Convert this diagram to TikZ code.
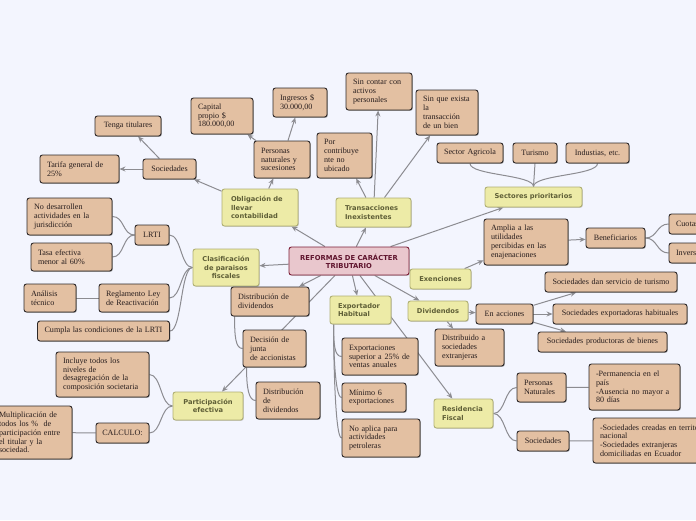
\documentclass[tikz,border=0pt]{standalone}
\usepackage{fontspec}
\newfontfamily\tanfont{Liberation Serif}
\newfontfamily\yelfont{DejaVu Sans}
\usetikzlibrary{arrows.meta, calc, backgrounds, shadows}
\definecolor{bgFill}{RGB}{243,245,254}
\definecolor{tanFill}{RGB}{227,192,162}
\definecolor{tanBrd}{RGB}{45,40,40}
\definecolor{tanTxt}{RGB}{40,30,30}
\definecolor{yelFill}{RGB}{237,235,167}
\definecolor{yelBrd}{RGB}{175,175,115}
\definecolor{yelTxt}{RGB}{95,95,55}
\definecolor{rootFill}{RGB}{233,199,205}
\definecolor{rootBrd}{RGB}{125,30,55}
\definecolor{rootTxt}{RGB}{95,20,45}
\definecolor{lnGray}{RGB}{140,140,145}
\tikzset{
  B/.style={rounded corners=2.5pt, inner ysep=2pt, line width=0.9pt},
  TAN/.style={B, draw=tanBrd, fill=tanFill, inner xsep=7pt, align=left, text=tanTxt,
    font=\tanfont\fontsize{8.1}{8.8}\selectfont,
    drop shadow={shadow xshift=0.8pt, shadow yshift=-0.8pt, fill=black!70, opacity=0.5}},
  YEL/.style={B, draw=yelBrd, fill=yelFill, inner xsep=9pt, align=left, text=yelTxt,
    font=\yelfont\bfseries\fontsize{6.7}{8.3}\selectfont,
    drop shadow={shadow xshift=0.8pt, shadow yshift=-0.8pt, fill=black!40, opacity=0.5}},
  YELC/.style={YEL, inner xsep=6pt, align=center},
  ROOT/.style={B, draw=rootBrd, fill=rootFill, inner xsep=5pt, align=center, text=rootTxt,
    font=\yelfont\bfseries\fontsize{6.8}{7.8}\selectfont,
    drop shadow={shadow xshift=0.8pt, shadow yshift=-0.8pt, fill=black!40, opacity=0.5}},
  AR/.style={-{Stealth[length=6pt, width=5pt]}, draw=lnGray, line width=1pt},
  LN/.style={draw=lnGray, line width=1pt},
}
\newcommand{\lcurve}[2]{\draw[LN] (#1.west) .. controls +(-12,0) and +(12,0) .. (#2.east);}
\newcommand{\rcurve}[2]{\draw[LN] (#1.east) .. controls +(12,0) and +(-12,0) .. (#2.west);}
\newcommand{\upcurve}[2]{\draw[LN] (#1.north) .. controls +(0,-12) and +(0,12) .. (#2.south);}
\newcommand{\dncurve}[2]{\draw[LN] ([xshift=4pt]#1.south west) .. controls +(0,20) and +(-7,0) .. (#2.west);}

\begin{document}
\begin{tikzpicture}[x=1pt, y=-1pt]
\useasboundingbox (0,0) rectangle (696,520);

%% centre
\node[ROOT, text width=110pt, minimum height=28pt] (root) at (349,261)
  {REFORMAS DE CARÁCTER\\TRIBUTARIO};

%% Obligación de llevar contabilidad
\node[YEL, text width=58pt, minimum height=37pt] (oblig) at (260,207.5)
  {Obligación de\\llevar\\contabilidad};
\node[TAN, text width=39pt, align=center, minimum height=20pt] (socA) at (169.5,169) {Sociedades};
\node[TAN, text width=52pt, align=center, minimum height=20pt] (tenga) at (128,126) {Tenga titulares};
\node[TAN, text width=65pt, minimum height=28pt] (tarifa) at (79.5,169) {Tarifa general de\\25\%};
\node[TAN, text width=42pt, minimum height=37pt] (persnat) at (282,159.5)
  {Personas\\naturales y\\sucesiones};
\node[TAN, text width=48pt, minimum height=36pt] (capital) at (222,116) {Capital\\propio \$\\180.000,00};
\node[TAN, text width=40pt, minimum height=29pt] (ingresos) at (300,102.5) {Ingresos \$\\30.000,00};

%% Transacciones Inexistentes
\node[YEL, text width=57pt, minimum height=29pt] (trans) at (373.5,212.5)
  {Transacciones\\Inexistentes};
\node[TAN, text width=41pt, minimum height=45pt] (porcontrib) at (344.5,155.5)
  {Por\\contribuye\\nte no\\ubicado};
\node[TAN, text width=52pt, minimum height=37pt] (sincontar) at (379,91.5)
  {Sin contar con\\activos\\personales};
\node[TAN, text width=48pt, minimum height=45pt] (sinque) at (447,112.5)
  {Sin que exista\\la\\transacción\\de un bien};

%% Sectores prioritarios
\node[YELC, text width=85pt, minimum height=20pt] (sect) at (533.5,197) {Sectores prioritarios};
\node[TAN, text width=52pt, align=center, minimum height=20pt] (agricola) at (470,153) {Sector Agricola};
\node[TAN, text width=30pt, align=center, minimum height=20pt] (turismo) at (535,153) {Turismo};
\node[TAN, text width=49pt, align=center, minimum height=20pt] (industias) at (597.5,153) {Industias, etc.};

%% Exenciones
\node[YELC, text width=49pt, minimum height=20pt] (exenc) at (440.5,279) {Exenciones};
\node[TAN, text width=70pt, minimum height=46pt] (amplia) at (526,242)
  {Amplia a las\\utilidades\\percibidas en las\\enajenaciones};
\node[TAN, text width=45pt, align=center, minimum height=20pt] (benef) at (615.5,238) {Beneficiarios};
\node[TAN, text width=40pt, minimum height=20pt] (cuota) at (696,224) {Cuotas};
\node[TAN, text width=40pt, minimum height=20pt] (invers) at (696,253) {Inversiones};

%% Dividendos
\node[YELC, text width=48pt, minimum height=20pt] (divid) at (438,311) {Dividendos};
\node[TAN, text width=43pt, align=center, minimum height=20pt] (enacc) at (504.5,314) {En acciones};
\node[TAN, text width=118pt, align=center, minimum height=20pt] (turserv) at (611,282)
  {Sociedades dan servicio de turismo};
\node[TAN, text width=120pt, align=center, minimum height=20pt] (exphab) at (620,314)
  {Sociedades exportadoras habituales};
\node[TAN, text width=115pt, align=center, minimum height=20pt] (produc) at (602.5,342)
  {Sociedades productoras de bienes};
\node[TAN, text width=55pt, minimum height=37pt] (distext) at (469.5,347.5)
  {Distribuido a\\sociedades\\extranjeras};

%% Clasificación de paraísos fiscales
\node[YELC, text width=54pt, minimum height=37pt] (clasif) at (226,267.5)
  {Clasificación\\de paraisos\\fiscales};
\node[TAN, text width=20pt, align=center, minimum height=20pt] (lrti) at (152,235) {LRTI};
\node[TAN, text width=71pt, minimum height=37pt] (nodesa) at (69.5,216.5)
  {No desarrollen\\actividades en la\\jurisdicción};
\node[TAN, text width=67pt, minimum height=28pt] (tasa) at (71.5,257) {Tasa efectiva\\menor al 60\%};
\node[TAN, text width=56pt, minimum height=28pt] (reglam) at (134,298) {Reglamento Ley\\de Reactivación};
\node[TAN, text width=38pt, minimum height=28pt] (analisis) at (50,298) {Análisis\\técnico};
\node[TAN, text width=118pt, align=center, minimum height=20pt] (cumpla) at (103.5,331)
  {Cumpla las condiciones de la LRTI};

%% Distribución de dividendos
\node[TAN, text width=64pt, minimum height=29pt] (distdiv) at (270,301.5) {Distribución de\\dividendos};
\node[TAN, text width=49pt, minimum height=37pt] (decis) at (274.5,348.5)
  {Decisión de\\junta\\de accionistas};
\node[TAN, text width=50pt, minimum height=37pt] (distdivB) at (288,400.5)
  {Distribución\\de\\dividendos};

%% Participación efectiva
\node[YELC, text width=58pt, minimum height=28pt] (partic) at (208,406) {Participación\\efectiva};
\node[TAN, text width=79pt, minimum height=45pt] (incluye) at (102.5,374.5)
  {Incluye todos los\\niveles de\\desagregación de la\\composición societaria};
\node[TAN, text width=41pt, inner xsep=6pt, align=center, minimum height=20pt] (calculo) at (122.5,433) {CALCULO:};
\node[TAN, text width=66pt, minimum height=53pt] (multip) at (32,432.5)
  {Multiplicación de\\todos los \%~ de\\participación entre\\el titular y la\\sociedad.};

%% Exportador Habitual
\node[YEL, text width=45pt, inner xsep=8pt, minimum height=28pt] (export) at (360.5,310) {Exportador\\Habitual};
\node[TAN, text width=62pt, minimum height=37pt] (exportac) at (380,356.5)
  {Exportaciones\\superior a 25\% de\\ventas anuales};
\node[TAN, text width=50pt, minimum height=29pt] (minimo) at (374,397.5) {Mínimo 6\\exportaciones};
\node[TAN, text width=64pt, minimum height=38pt] (noaplica) at (381,438)
  {No aplica para\\actividades\\petroleras};

%% Residencia Fiscal
\node[YEL, text width=43pt, inner xsep=8pt, minimum height=29pt] (resid) at (463.5,413.5) {Residencia\\Fiscal};
\node[TAN, text width=35pt, minimum height=29pt] (pnat) at (541.5,387.5) {Personas\\Naturales};
\node[TAN, text width=77pt, minimum height=46pt] (permanen) at (634.5,387)
  {-Permanencia en el\\país\\-Ausencia no mayor a\\80 días};
\node[TAN, text width=38pt, align=center, minimum height=20pt] (socRF) at (543,441) {Sociedades};
\node[TAN, text width=110pt, minimum height=45pt] (soccread) at (655,440.5)
  {-Sociedades creadas en territorio\\nacional\\-Sociedades extranjeras\\domiciliadas en Ecuador};

\begin{scope}[on background layer]
  \fill[bgFill] (0,0) rectangle (696,520);
  % centre
  \draw[AR] (root) -- (oblig);
  \draw[AR] (root) -- (trans);
  \draw[AR] (root) -- (sect);
  \draw[AR] (root) -- (clasif);
  \draw[AR] (root) -- (distdiv);
  \draw[AR] (root) -- (partic);
  \draw[AR] (root) -- (export);
  \draw[AR] (root) -- (divid);
  \draw[AR] (root) -- (resid);
  % arrows between topics
  \draw[AR] (oblig) -- (socA);
  \draw[AR] (oblig) -- (persnat);
  \draw[AR] (socA) -- (tenga);
  \draw[AR] (socA) -- (tarifa);
  \draw[AR] (persnat) -- (capital);
  \draw[AR] (persnat) -- (ingresos);
  \draw[AR] (trans) -- (porcontrib);
  \draw[AR] (trans) -- (sincontar);
  \draw[AR] (trans) -- (sinque);
  \draw[AR] (exenc) -- (amplia);
  \draw[AR] (amplia) -- (benef);
  \draw[AR] (divid) -- (enacc);
  \draw[AR] (divid) -- (distext);
  \draw[AR] (enacc) -- (turserv);
  \draw[AR] (enacc) -- (exphab);
  \draw[AR] (enacc) -- (produc);
  % tree branches
  \lcurve{clasif}{lrti}
  \lcurve{clasif}{reglam}
  \lcurve{clasif}{cumpla}
  \lcurve{lrti}{nodesa}
  \lcurve{lrti}{tasa}
  \lcurve{partic}{incluye}
  \lcurve{partic}{calculo}
  \rcurve{benef}{cuota}
  \rcurve{benef}{invers}
  \rcurve{resid}{pnat}
  \rcurve{resid}{socRF}
  \upcurve{sect}{agricola}
  \upcurve{sect}{turismo}
  \upcurve{sect}{industias}
  \dncurve{export}{exportac}
  \dncurve{export}{minimo}
  \dncurve{export}{noaplica}
  \dncurve{distdiv}{decis}
  \dncurve{decis}{distdivB}
  \draw[LN] (reglam) -- (analisis);
  \draw[LN] (calculo) -- (multip);
  \draw[LN] (pnat) -- (permanen);
  \draw[LN] (socRF) -- (soccread);
\end{scope}

\end{tikzpicture}
\end{document}
